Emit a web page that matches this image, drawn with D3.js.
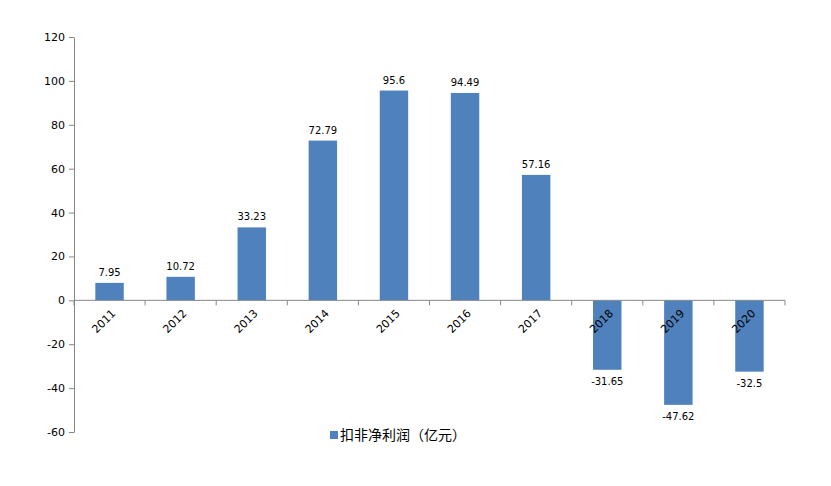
<!DOCTYPE html>
<html>
<head>
<meta charset="utf-8">
<script src="https://cdn.jsdelivr.net/npm/d3@7/dist/d3.min.js"></script>
<style>
  body { margin: 0; background: #fff; }
  svg text { font-family: "DejaVu Sans", Verdana, sans-serif; fill: #000; }
</style>
</head>
<body>
<div id="chart"></div>
<script>
// chart data
const years = ["2011", "2012", "2013", "2014", "2015", "2016", "2017", "2018", "2019", "2020"];
const profit = [7.95, 10.72, 33.23, 72.79, 95.6, 94.49, 57.16, -31.65, -47.62, -32.5];
const profitLabels = ["7.95", "10.72", "33.23", "72.79", "95.6", "94.49", "57.16", "-31.65", "-47.62", "-32.5"];
const yTicks = [-60, -40, -20, 0, 20, 40, 60, 80, 100, 120];
const seriesName = "扣非净利润（亿元）";

const W = 831, H = 486;
const margin = { top: 37, right: 46, bottom: 54, left: 74 };
const width = W - margin.left - margin.right;
const height = H - margin.top - margin.bottom;

const svg = d3.select("#chart").append("svg")
    .attr("width", W)
    .attr("height", H);

const g = svg.append("g")
    .attr("transform", `translate(${margin.left},${margin.top})`);

const x = d3.scaleBand()
    .domain(years)
    .range([0, width])
    .paddingInner(0.6)
    .paddingOuter(0.3);

const y = d3.scaleLinear()
    .domain([-60, 120])
    .range([height, 0]);

const axisColor = "#868686";

// y axis (plain hyphen for negatives, like the original)
const yAxis = g.append("g")
    .call(d3.axisLeft(y).tickValues(yTicks).tickFormat(d => String(d)).tickSize(5).tickSizeOuter(0));
yAxis.select(".domain").attr("stroke", axisColor);
yAxis.selectAll(".tick line").attr("stroke", axisColor);
yAxis.selectAll(".tick text")
    .attr("x", -9)
    .style("font-size", "11px");

// bars
g.selectAll(".bar")
    .data(profit)
    .join("rect")
    .attr("class", "bar")
    .attr("x", (d, i) => x(years[i]))
    .attr("y", d => y(Math.max(0, d)))
    .attr("width", x.bandwidth())
    .attr("height", d => Math.abs(y(d) - y(0)))
    .attr("fill", "#4F81BD");

// x axis at zero, ticks at category boundaries
const zeroY = y(0);
const step = x.step();
const xa = g.append("g").attr("transform", `translate(0,${zeroY})`);
xa.append("line")
    .attr("x1", 0).attr("x2", width)
    .attr("stroke", axisColor);
xa.selectAll(".bnd")
    .data(d3.range(years.length + 1))
    .join("line")
    .attr("x1", i => i * step).attr("x2", i => i * step)
    .attr("y1", 0).attr("y2", 5)
    .attr("stroke", axisColor);
xa.selectAll(".lbl")
    .data(years)
    .join("text")
    .attr("text-anchor", "end")
    .attr("transform", d => `translate(${x(d) + x.bandwidth() / 2 + 4},${11}) rotate(-45)`)
    .attr("dy", "0.35em")
    .style("font-size", "11px")
    .text(d => d);

// value labels
g.selectAll(".val")
    .data(profit)
    .join("text")
    .attr("text-anchor", "middle")
    .attr("x", (d, i) => x(years[i]) + x.bandwidth() / 2)
    .attr("y", d => d >= 0 ? y(d) - 7 : y(d) + 15)
    .style("font-size", "10px")
    .text((d, i) => profitLabels[i]);

// legend
const lg = svg.append("g").attr("transform", "translate(330,435)");
lg.append("rect")
    .attr("x", 0).attr("y", -4)
    .attr("width", 8).attr("height", 8)
    .attr("fill", "#4F81BD");
lg.append("text")
    .attr("x", 10)
    .attr("dy", "0.35em")
    .style("font-family", "'Noto Sans CJK SC', sans-serif")
    .style("font-size", "14px")
    .text(seriesName);
</script>
</body>
</html>
